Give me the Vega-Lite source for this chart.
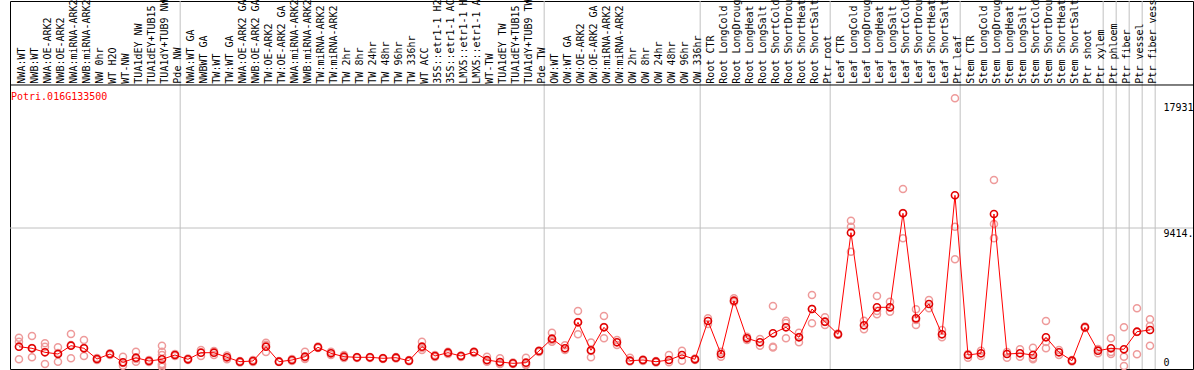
{
  "$schema": "https://vega.github.io/schema/vega-lite/v6.json",
  "width": 1183,
  "height": 368,
  "autosize": {"type": "none"},
  "padding": {"left": 10, "top": 1, "right": 1, "bottom": 1},
  "background": "white",
  "config": {
    "view": {"stroke": "black", "strokeWidth": 1},
    "font": "DejaVu Sans Mono"
  },
  "datasets": {
    "samples": [
      {"i": 1, "name": "NWA:WT", "mean": 1375, "reps": [1984, 1714, 522]},
      {"i": 2, "name": "NWB:WT", "mean": 1267, "reps": [2100, 657, 1287]},
      {"i": 3, "name": "NWA:OE-ARK2", "mean": 996, "reps": [1605, 1375, 203]},
      {"i": 4, "name": "NWB:OE-ARK2", "mean": 880, "reps": [1334, 359, 948]},
      {"i": 5, "name": "NWA:miRNA-ARK2", "mean": 1443, "reps": [2235, 589, 1490]},
      {"i": 6, "name": "NWB:miRNA-ARK2", "mean": 1267, "reps": [1829, 745, 1287]},
      {"i": 7, "name": "NW 0hr", "mean": 542, "reps": [610, 474]},
      {"i": 8, "name": "WT H2O", "mean": 880, "reps": [928, 813]},
      {"i": 9, "name": "WT-NW", "mean": 318, "reps": [698, 88, 271]},
      {"i": 10, "name": "TUA1dEY NW", "mean": 630, "reps": [1036, 359, 542]},
      {"i": 11, "name": "TUA1dEY+TUB15", "mean": 406, "reps": [474, 339]},
      {"i": 12, "name": "TUA1dY+TUB9 NW", "mean": 522, "reps": [1443, 1036, 813, 203, 135, 20]},
      {"i": 13, "name": "Pde NW", "mean": 813, "reps": [880, 745]},
      {"i": 14, "name": "NWA:WT GA", "mean": 522, "reps": [576, 474]},
      {"i": 15, "name": "NWBWT GA", "mean": 969, "reps": [1151, 745]},
      {"i": 16, "name": "TW:WT", "mean": 969, "reps": [813, 1084]},
      {"i": 17, "name": "TW:WT GA", "mean": 657, "reps": [522, 779]},
      {"i": 18, "name": "NWA:OE-ARK2 GA", "mean": 359, "reps": [406, 305]},
      {"i": 19, "name": "NWB:OE-ARK2 GA", "mean": 406, "reps": [474, 339]},
      {"i": 20, "name": "TW:OE-ARK2", "mean": 1375, "reps": [1646, 1510, 1016]},
      {"i": 21, "name": "TW:OE-ARK2 GA", "mean": 359, "reps": [406, 339]},
      {"i": 22, "name": "NWA:miRNA-ARK2", "mean": 474, "reps": [542, 406]},
      {"i": 23, "name": "NWB:miRNA-ARK2", "mean": 698, "reps": [1036, 542, 610]},
      {"i": 24, "name": "TW:miRNA-ARK2", "mean": 1334, "reps": [1388, 1287]},
      {"i": 25, "name": "TW:miRNA-ARK2", "mean": 928, "reps": [1036, 813]},
      {"i": 26, "name": "TW 2hr", "mean": 698, "reps": [813, 610]},
      {"i": 27, "name": "TW 8hr", "mean": 657, "reps": [677, 610]},
      {"i": 28, "name": "TW 24hr", "mean": 657, "reps": [677, 610]},
      {"i": 29, "name": "TW 48hr", "mean": 589, "reps": [610, 542]},
      {"i": 30, "name": "TW 96hr", "mean": 630, "reps": [677, 576]},
      {"i": 31, "name": "TW 336hr", "mean": 427, "reps": [474, 386]},
      {"i": 32, "name": "WT ACC", "mean": 1375, "reps": [1714, 1151, 1287]},
      {"i": 33, "name": "35S::etr1-1 H2", "mean": 745, "reps": [813, 677]},
      {"i": 34, "name": "35S::etr1-1 AC", "mean": 969, "reps": [1036, 880]},
      {"i": 35, "name": "LMX5::etr1-1 H", "mean": 745, "reps": [779, 677]},
      {"i": 36, "name": "LMX5::etr1-1 A", "mean": 1016, "reps": [1050, 948]},
      {"i": 37, "name": "WT-TW", "mean": 474, "reps": [698, 359, 406]},
      {"i": 38, "name": "TUA1dEY TW", "mean": 339, "reps": [589, 237, 203]},
      {"i": 39, "name": "TUA1dEY+TUB15", "mean": 251, "reps": [305, 203]},
      {"i": 40, "name": "TUA1dY+TUB9 TW", "mean": 291, "reps": [630, 135, 169]},
      {"i": 41, "name": "Pde TW", "mean": 1084, "reps": [1118, 1016]},
      {"i": 42, "name": "OW:WT", "mean": 1917, "reps": [2323, 1714, 1829]},
      {"i": 43, "name": "OW:WT GA", "mean": 1267, "reps": [1470, 1151]},
      {"i": 44, "name": "OW:OE-ARK2", "mean": 3028, "reps": [3793, 2215, 3048]},
      {"i": 45, "name": "OW:OE-ARK2 GA", "mean": 1131, "reps": [1659, 657, 1084]},
      {"i": 46, "name": "OW:miRNA-ARK2", "mean": 2689, "reps": [3454, 1944, 2709]},
      {"i": 47, "name": "OW:miRNA-ARK2", "mean": 1673, "reps": [1829, 1490]},
      {"i": 48, "name": "OW 2hr", "mean": 427, "reps": [630, 373]},
      {"i": 49, "name": "OW 8hr", "mean": 474, "reps": [508, 406]},
      {"i": 50, "name": "OW 24hr", "mean": 359, "reps": [406, 305]},
      {"i": 51, "name": "OW 48hr", "mean": 474, "reps": [813, 318]},
      {"i": 52, "name": "OW 96hr", "mean": 813, "reps": [1104, 427]},
      {"i": 53, "name": "OW 336hr", "mean": 522, "reps": [576, 474]},
      {"i": 54, "name": "Root CTR", "mean": 3116, "reps": [3298, 2912]},
      {"i": 55, "name": "Root LongCold", "mean": 880, "reps": [1036, 698]},
      {"i": 56, "name": "Root LongDroug", "mean": 4490, "reps": [4653, 4402]},
      {"i": 57, "name": "Root LongHeat", "mean": 1944, "reps": [2052, 1829]},
      {"i": 58, "name": "Root LongSalt", "mean": 1673, "reps": [1896, 1443]},
      {"i": 59, "name": "Root ShortCold", "mean": 2283, "reps": [4132, 1375, 1321]},
      {"i": 60, "name": "Root ShortDrou", "mean": 2689, "reps": [3136, 1944, 2980]},
      {"i": 61, "name": "Root ShortHeat", "mean": 2012, "reps": [2323, 1673, 2032]},
      {"i": 62, "name": "Root ShortSalt", "mean": 3928, "reps": [4877, 2960, 3928]},
      {"i": 63, "name": "Ptr root", "mean": 3068, "reps": [3366, 2845, 3048]},
      {"i": 64, "name": "Leaf CTR", "mean": 2215, "reps": [2269, 2167]},
      {"i": 65, "name": "Leaf LongCold", "mean": 9096, "reps": [9909, 9502, 7809]},
      {"i": 66, "name": "Leaf LongDroug", "mean": 2824, "reps": [3136, 2553]},
      {"i": 67, "name": "Leaf LongHeat", "mean": 4043, "reps": [4809, 3576, 3793]},
      {"i": 68, "name": "Leaf LongSalt", "mean": 4043, "reps": [4423, 3745]},
      {"i": 69, "name": "Leaf ShortCold", "mean": 10410, "reps": [12056, 8717, 10430]},
      {"i": 70, "name": "Leaf ShortDrou", "mean": 3298, "reps": [3908, 2845, 3183]},
      {"i": 71, "name": "Leaf ShortHeat", "mean": 4267, "reps": [4538, 3976]},
      {"i": 72, "name": "Leaf ShortSalt", "mean": 2215, "reps": [2506, 2012]},
      {"i": 73, "name": "Ptr leaf", "mean": 11629, "reps": [18199, 9502, 7295]},
      {"i": 74, "name": "Stem CTR", "mean": 813, "reps": [630, 880]},
      {"i": 75, "name": "Stem LongCold", "mean": 928, "reps": [1104, 745]},
      {"i": 76, "name": "Stem LongDroug", "mean": 10363, "reps": [12665, 9685, 8717]},
      {"i": 77, "name": "Stem LongHeat", "mean": 880, "reps": [630, 1016]},
      {"i": 78, "name": "Stem LongSalt", "mean": 928, "reps": [1199, 698]},
      {"i": 79, "name": "Stem ShortCold", "mean": 813, "reps": [1307, 522, 610]},
      {"i": 80, "name": "Stem ShortDrou", "mean": 2012, "reps": [3116, 1267, 1693]},
      {"i": 81, "name": "Stem ShortHeat", "mean": 996, "reps": [1151, 813]},
      {"i": 82, "name": "Stem ShortSalt", "mean": 427, "reps": [474, 373]},
      {"i": 83, "name": "Ptr shoot", "mean": 2689, "reps": [2743, 2641]},
      {"i": 84, "name": "Ptr xylem", "mean": 1104, "reps": [928, 1219]},
      {"i": 85, "name": "Ptr phloem", "mean": 1267, "reps": [1944, 880, 1016]},
      {"i": 86, "name": "Ptr fiber", "mean": 1199, "reps": [2689, 698, 68]},
      {"i": 87, "name": "Ptr vessel", "mean": 2391, "reps": [3976, 860, 2371]},
      {"i": 88, "name": "Ptr fiber vess", "mean": 2506, "reps": [3231, 2777, 1443]}
    ],
    "bounds": [
      {"b": 13.4}, {"b": 41.4}, {"b": 53.4}, {"b": 63.4}, {"b": 73.4},
      {"b": 84.4}, {"b": 85.4}, {"b": 86.4}, {"b": 87.4}, {"b": 88.4}
    ],
    "gene": [{"label": "Potri.016G133500"}]
  },
  "layer": [
    {
      "data": {"name": "bounds"},
      "mark": {"type": "rule", "color": "#c0c0c0", "strokeWidth": 1},
      "encoding": {
        "x": {"field": "b", "type": "quantitative", "scale": {"domain": [0.31, 91.31], "nice": false, "zero": false}, "axis": null}
      }
    },
    {
      "data": {"values": [{}]},
      "mark": {"type": "rule", "color": "#c0c0c0", "strokeWidth": 1},
      "encoding": {
        "y": {"datum": 9414, "type": "quantitative", "scale": {"domain": [-135, 24788], "nice": false, "zero": false},
          "axis": {
            "orient": "right", "values": [0, 9414, 17931], "format": "d",
            "labelExpr": "datum.value == 9414 ? '9414.' : datum.label",
            "domain": false, "ticks": false, "grid": false,
            "labelPadding": -30, "labelAlign": "left",
            "labelBaseline": {"condition": {"test": "datum.value == 0", "value": "bottom"}, "value": "top"},
            "labelFlush": false, "labelOverlap": false,
            "labelFont": "DejaVu Sans Mono", "labelFontSize": 10, "labelColor": "black", "title": null
          }
        }
      }
    },
    {
      "data": {"values": [{}]},
      "mark": {"type": "rule", "color": "black", "strokeWidth": 1},
      "encoding": {
        "y": {"datum": 19100, "type": "quantitative"}
      }
    },
    {
      "data": {"name": "samples"},
      "transform": [{"flatten": ["reps"], "as": ["rep"]}],
      "mark": {"type": "point", "shape": "circle", "filled": false, "size": 50, "strokeWidth": 1.5, "color": "#ee9a9a", "opacity": 1},
      "encoding": {
        "x": {"field": "i", "type": "quantitative"},
        "y": {"field": "rep", "type": "quantitative"}
      }
    },
    {
      "data": {"name": "samples"},
      "mark": {"type": "line", "color": "#ff0000", "strokeWidth": 1},
      "encoding": {
        "x": {"field": "i", "type": "quantitative"},
        "y": {"field": "mean", "type": "quantitative"}
      }
    },
    {
      "data": {"name": "samples"},
      "mark": {"type": "point", "shape": "circle", "filled": false, "size": 50, "strokeWidth": 1.6, "color": "#e00000", "opacity": 1},
      "encoding": {
        "x": {"field": "i", "type": "quantitative"},
        "y": {"field": "mean", "type": "quantitative"}
      }
    },
    {
      "data": {"name": "samples"},
      "mark": {"type": "text", "angle": 270, "align": "left", "baseline": "middle", "font": "DejaVu Sans Mono", "fontSize": 10, "color": "black", "dy": 3},
      "encoding": {
        "x": {"field": "i", "type": "quantitative"},
        "y": {"datum": 19190, "type": "quantitative"},
        "text": {"field": "name"}
      }
    },
    {
      "data": {"name": "gene"},
      "mark": {"type": "text", "align": "left", "baseline": "middle", "font": "DejaVu Sans Mono", "fontSize": 10, "color": "#ff0000", "dx": 1},
      "encoding": {
        "x": {"datum": 0.31, "type": "quantitative"},
        "y": {"datum": 18286, "type": "quantitative"},
        "text": {"field": "label"}
      }
    }
  ]
}
